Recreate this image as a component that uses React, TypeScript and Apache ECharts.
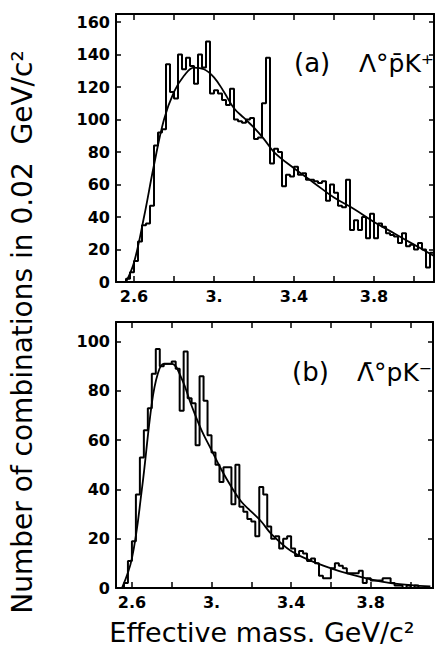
import React, { useEffect, useRef } from "react";
import * as echarts from "echarts";

// Histogram binning (GeV/c^2)
const binStart = 2.56;
const binWidth = 0.02;

// (a) Λ° p̄ K+ : combinations per 0.02 GeV bin
const histA = [
  2, 6, 13, 25, 35, 36, 47, 84, 92, 94,
  134, 117, 113, 140, 131, 138, 133, 122, 140, 132,
  148, 116, 118, 116, 112, 109, 119, 100, 99, 98,
  100, 101, 88, 89, 110, 138, 73, 82, 80, 59,
  66, 65, 71, 66, 67, 63, 63, 62, 61, 62,
  50, 60, 55, 47, 46, 63, 32, 38, 32, 40,
  27, 42, 27, 36, 34, 30, 29, 28, 24, 30,
  22, 23, 20, 24, 20, 9, 18,
];

// (b) Λ̄° p K- : combinations per 0.02 GeV bin
const histB = [
  2, 11, 19, 38, 53, 64, 73, 87, 97, 90,
  91, 91, 92, 89, 72, 96, 77, 75, 58, 86,
  76, 62, 55, 50, 43, 49, 49, 34, 50, 33,
  31, 28, 27, 21, 41, 38, 25, 20, 21, 16,
  20, 21, 16, 13, 15, 14, 11, 12, 10, 5,
  4, 4, 8, 10, 9, 8, 6, 6, 6, 7,
  2, 4, 3, 3, 3, 4, 4, 2, 1, 1,
  0, 1, 0, 1, 0, 0, 0, 0,
];

// Smooth fitted curves
const fitAMass = [2.56, 2.6, 2.65, 2.7, 2.75, 2.8, 2.85, 2.9, 2.95, 3.0, 3.05, 3.1, 3.15, 3.2, 3.25, 3.3, 3.4, 3.5, 3.6, 3.7, 3.8, 3.9, 4.0, 4.1];
const fitAValue = [0, 12, 40, 72, 100, 117, 127, 132, 131, 126, 117, 107, 101, 95, 88, 80, 70, 61, 52, 45, 37, 30, 23, 16];
const fitBMass = [2.55, 2.6, 2.65, 2.7, 2.73, 2.76, 2.8, 2.85, 2.9, 2.95, 3.0, 3.05, 3.1, 3.15, 3.2, 3.25, 3.3, 3.4, 3.5, 3.6, 3.7, 3.8, 3.9, 4.0, 4.1];
const fitBValue = [0, 12, 40, 75, 87, 91, 91, 85, 74, 64, 56, 48, 41, 35, 31, 27, 22, 15, 11, 8, 5.5, 3.5, 2, 1.2, 0.6];

// Axes
const xTickValues = [2.6, 2.8, 3.0, 3.2, 3.4, 3.6, 3.8, 4.0];
const xLabelValues = [2.6, 3.0, 3.4, 3.8];
const xLabelTexts = ["2.6", "3.", "3.4", "3.8"];
const yTicksA = [0, 20, 40, 60, 80, 100, 120, 140, 160];
const yTicksB = [0, 20, 40, 60, 80, 100];

const yTitle = "Number of combinations in 0.02  GeV/c²";
const xTitle = "Effective mass. GeV/c²";

function stepData(values: number[]) {
  const pts: number[][] = [[binStart, 0]];
  values.forEach((v, i) => pts.push([binStart + i * binWidth, v]));
  pts.push([binStart + values.length * binWidth, values[values.length - 1]]);
  return pts;
}

function pairs(xs: number[], ys: number[]) {
  return xs.map((x, i) => [x, ys[i]]);
}

const labelFont = { color: "#000", fontFamily: "DejaVu Sans", fontWeight: "bold" as const, fontSize: 16 };

function xAxis(gi: number, min: number, max: number, pos: "top" | "bottom", labels: boolean) {
  return {
    type: "value" as const,
    gridIndex: gi,
    min,
    max,
    position: pos,
    axisLine: { show: true, onZero: false, lineStyle: { color: "#000", width: 2 } },
    axisTick: { show: true, inside: true, length: 6, customValues: xTickValues, lineStyle: { color: "#000", width: 1.5 } },
    axisLabel: labels
      ? {
          show: true,
          ...labelFont,
          margin: 6,
          customValues: xLabelValues,
          formatter: (v: number) => {
            const i = xLabelValues.findIndex((x) => Math.abs(x - v) < 1e-6);
            return i >= 0 ? xLabelTexts[i] : "";
          },
        }
      : { show: false },
    splitLine: { show: false },
  };
}

function yAxis(gi: number, max: number, ticks: number[], pos: "left" | "right", labels: boolean) {
  return {
    type: "value" as const,
    gridIndex: gi,
    min: 0,
    max,
    position: pos,
    axisLine: { show: true, onZero: false, lineStyle: { color: "#000", width: 2 } },
    axisTick: { show: true, inside: true, length: 5, customValues: ticks, lineStyle: { color: "#000", width: 1.5 } },
    axisLabel: labels
      ? { show: true, ...labelFont, margin: 6, customValues: ticks, formatter: (v: number) => String(Math.round(v)) }
      : { show: false },
    splitLine: { show: false },
  };
}

export default function App() {
  const ref = useRef<HTMLDivElement>(null);
  useEffect(() => {
    document.body.style.margin = "0";
    if (!ref.current) return;
    const chart = echarts.init(ref.current, undefined, { renderer: "svg" });
    const txt = (text: string, x: number, y: number, size: number, extra: any = {}) => ({
      type: "text",
      x,
      y,
      ...extra,
      style: {
        text,
        fill: "#000",
        fontFamily: "DejaVu Sans",
        fontSize: size,
        align: extra.align || "left",
        verticalAlign: "middle",
      },
    });
    chart.setOption({
      animation: false,
      backgroundColor: "#fff",
      grid: [
        { left: 116, top: 14, width: 318, height: 268, containLabel: false },
        { left: 116, top: 322, width: 317, height: 266, containLabel: false },
      ],
      xAxis: [
        xAxis(0, 2.51, 4.1, "bottom", true),
        xAxis(0, 2.51, 4.1, "top", false),
        xAxis(1, 2.52, 4.113, "bottom", true),
        xAxis(1, 2.52, 4.113, "top", false),
      ],
      yAxis: [
        yAxis(0, 165, yTicksA, "left", true),
        yAxis(0, 165, yTicksA, "right", false),
        yAxis(1, 108, yTicksB, "left", true),
        yAxis(1, 108, yTicksB, "right", false),
      ],
      series: [
        {
          type: "line",
          xAxisIndex: 0,
          yAxisIndex: 0,
          data: stepData(histA),
          step: "end",
          symbol: "none",
          lineStyle: { color: "#000", width: 2 },
          clip: true,
        },
        {
          type: "line",
          xAxisIndex: 0,
          yAxisIndex: 0,
          data: pairs(fitAMass, fitAValue),
          smooth: 0.4,
          symbol: "none",
          lineStyle: { color: "#000", width: 1.8 },
          clip: true,
        },
        {
          type: "line",
          xAxisIndex: 2,
          yAxisIndex: 2,
          data: stepData(histB),
          step: "end",
          symbol: "none",
          lineStyle: { color: "#000", width: 2 },
          clip: true,
        },
        {
          type: "line",
          xAxisIndex: 2,
          yAxisIndex: 2,
          data: pairs(fitBMass, fitBValue),
          smooth: 0.4,
          symbol: "none",
          lineStyle: { color: "#000", width: 1.8 },
          clip: true,
        },
      ],
      graphic: [
        txt(yTitle, 22, 332, 28, { rotation: Math.PI / 2, align: "center" }),
        txt(xTitle, 262, 632, 27, { align: "center" }),
        txt("(a)", 294, 63, 26),
        txt("Λ°p\u0304K⁺", 359, 63, 25),
        txt("(b)", 292, 372, 26),
        txt("Λ\u0304°pK⁻", 357, 372, 25),
      ],
    });
    return () => chart.dispose();
  }, []);
  return <div ref={ref} style={{ width: 440, height: 653 }} />;
}
